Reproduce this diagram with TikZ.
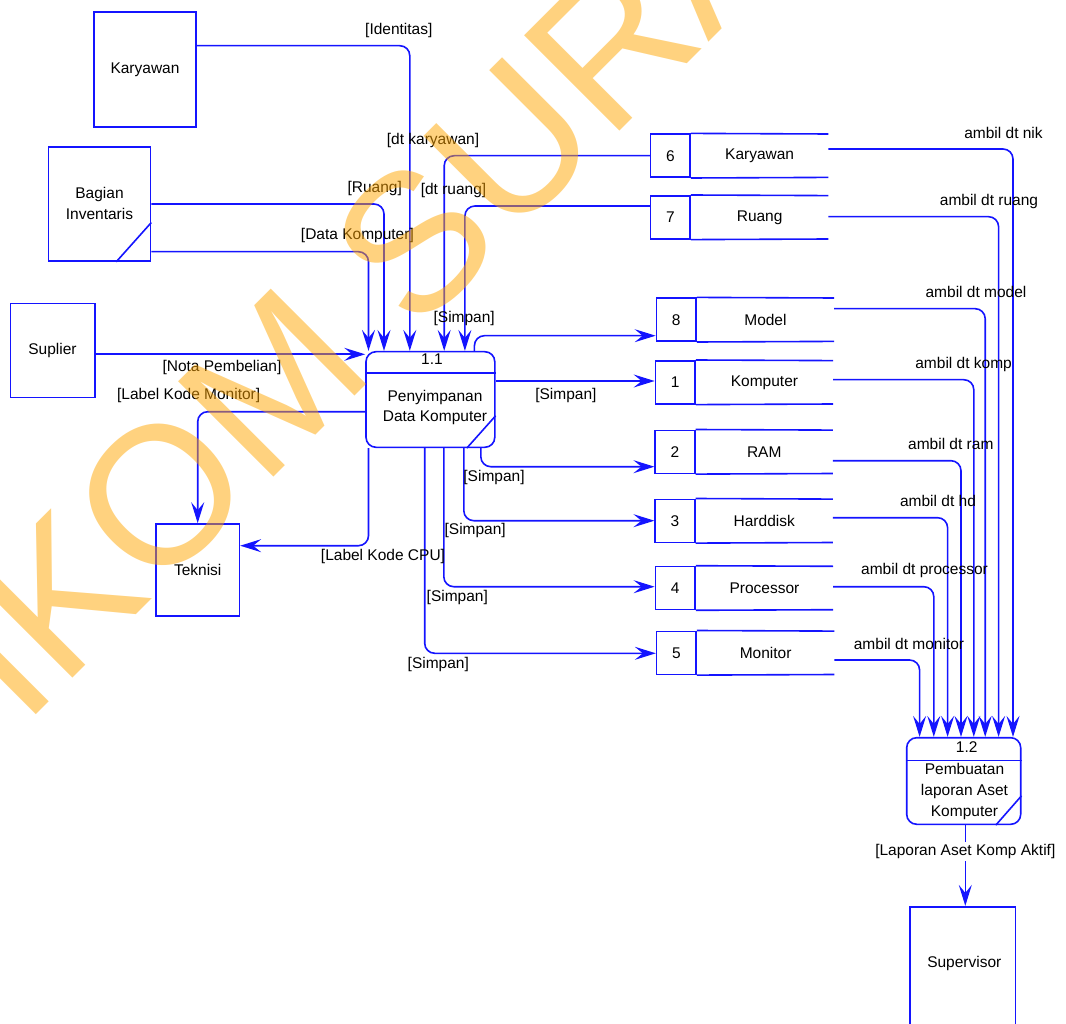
\documentclass[tikz,border=0pt]{standalone}
\usepackage{fontspec}
\setmainfont{Liberation Sans}
\usetikzlibrary{arrows.meta}
\definecolor{dfd}{RGB}{20,20,255}
\definecolor{wm}{RGB}{255,165,0}
\begin{document}
\begin{tikzpicture}[x=1pt,y=-1pt,
  every node/.style={font=\fontsize{15.5}{20}\selectfont, text=black},
  ent/.style={draw=dfd, line width=1.6pt, inner sep=0pt, align=center},
  proc/.style={draw=dfd, line width=1.6pt, rounded corners=10pt, inner sep=0pt},
  sid/.style={draw=dfd, line width=1.6pt, inner sep=0pt, minimum width=39.5pt, minimum height=43pt},
  snm/.style={inner sep=0pt, minimum width=137pt, minimum height=43pt},
  edge/.style={draw=dfd, line width=1.6pt},
  flow/.style={draw=dfd, line width=1.6pt, rounded corners=10pt, -{Stealth[length=21pt,width=13pt,inset=8pt]}},
  lbl/.style={inner sep=0pt},
  ]
\useasboundingbox (0,0) rectangle (1066,1024);

% external entities
\node[ent, minimum width=102pt, minimum height=115pt] (kar) at (145,69.5) {Karyawan};
\node[ent, minimum width=102pt, minimum height=114.3pt, font=\fontsize{15.5}{21}\selectfont] (inv) at (99.5,203.9) {Bagian\\Inventaris};
\draw[edge] ([yshift=39.3pt]inv.south east) -- ([xshift=-35.1pt]inv.south east);
\node[ent, minimum width=84.4pt, minimum height=93.6pt] (sup) at (52.5,350.5) {Suplier};
\node[ent, minimum width=83.3pt, minimum height=92pt] (tek) at (197.7,570) {Teknisi};
\node[ent, minimum width=105.6pt, minimum height=140pt] (spv) at (962.5,976.7) {};
\node (spvt) at (964.3,963) {Supervisor};

% process 1.1
\node[proc, minimum width=128.8pt, minimum height=95.6pt] (p11) at (430.4,399.5) {};
\draw[edge] (p11.west |- 0,373.3) -- (p11.east |- 0,373.3);
\draw[edge] ([yshift=32.3pt]p11.south east) -- ([xshift=-28.8pt]p11.south east);
\node (p11id) at (432,359.5) {1.1};
\node[align=center] (p11t) at (435,407) {Penyimpanan\\Data Komputer};

% process 1.2
\node[proc, minimum width=114pt, minimum height=86.6pt] (p12) at (963.7,781) {};
\draw[edge] (p12.west |- 0,760.3) -- (p12.east |- 0,760.3);
\draw[edge] ([yshift=29.3pt]p12.south east) -- ([xshift=-25.7pt]p12.south east);
\node (p12id) at (966.7,747.5) {1.2};
\node[align=center, font=\fontsize{15.5}{21}\selectfont] (p12t) at (964.5,791) {Pembuatan\\laporan Aset\\Komputer};

% data stores
\node[sid] (s6) at (670.4,155.7) {6};
\node[snm, anchor=west] (s6n) at (s6.east) {Karyawan};
\node[sid] (s7) at (670.4,217.3) {7};
\node[snm, anchor=west] (s7n) at (s7.east) {Ruang};
\node[sid] (s8) at (676.2,319.7) {8};
\node[snm, anchor=west] (s8n) at (s8.east) {Model};
\node[sid] (s1) at (675.2,382.3) {1};
\node[snm, anchor=west] (s1n) at (s1.east) {Komputer};
\node[sid] (s2) at (675.0,451.8) {2};
\node[snm, anchor=west] (s2n) at (s2.east) {RAM};
\node[sid] (s3) at (675.0,520.8) {3};
\node[snm, anchor=west] (s3n) at (s3.east) {Harddisk};
\node[sid] (s4) at (675.2,588.0) {4};
\node[snm, anchor=west] (s4n) at (s4.east) {Processor};
\node[sid] (s5) at (676.4,652.8) {5};
\node[snm, anchor=west] (s5n) at (s5.east) {Monitor};
\foreach \s in {s6,s7,s8,s1,s2,s3,s4,s5}{
  \draw[edge] (\s.north east) -- (\s n.north east);
  \draw[edge] (\s.south east) -- (\s n.south east);
}

% flows into 1.1
\draw[flow] (kar.east |- 0,45.7) -| (p11.north -| 409.8,0);
\draw[flow] (inv.east |- 0,204) -| (p11.north -| 384,0);
\draw[flow] (inv.east |- 0,251.7) -| (p11.north -| 368.5,0);
\draw[flow] (s6.west) -| (p11.north -| 444.2,0);
\draw[flow] (s7.west |- 0,206) -| (p11.north -| 464.9,0);
\draw[flow] (sup.east |- 0,354.3) -- (p11.west |- 0,354.3);

% flows out of 1.1
\draw[flow] (p11.west |- 0,411.7) -| (tek.north);
\draw[flow] (p11.south -| 368.5,0) |- (tek.east |- 0,545.7);
\draw[flow] (p11.north -| 474.4,0) |- (s8.west |- 0,335.7);
\draw[flow] (p11.east |- 0,381) -- (s1.west |- 0,381);
\draw[flow] (p11.south -| 480.8,0) |- (s2.west |- 0,466.7);
\draw[flow] (p11.south -| 463.8,0) |- (s3.west |- 0,520.7);
\draw[flow] (p11.south -| 443.8,0) |- (s4.west |- 0,586.7);
\draw[flow] (p11.south -| 424.7,0) |- (s5.west |- 0,653.3);

% flows into 1.2
\draw[flow] (s6n.east |- 0,149) -| (p12.north -| 1013,0);
\draw[flow] (s7n.east |- 0,216.7) -| (p12.north -| 998.6,0);
\draw[flow] (s8n.east |- 0,308.7) -| (p12.north -| 985.2,0);
\draw[flow] (s1n.east |- 0,379.7) -| (p12.north -| 973.8,0);
\draw[flow] (s2n.east |- 0,460.7) -| (p12.north -| 961.0,0);
\draw[flow] (s3n.east |- 0,517.7) -| (p12.north -| 947.6,0);
\draw[flow] (s4n.east |- 0,586.7) -| (p12.north -| 933.8,0);
\draw[flow] (s5n.east |- 0,660) -| (p12.north -| 919.6,0);

% flow out of 1.2
\draw[flow] (p12.south -| 965.3,0) -- (spv.north -| 965.3,0);

% labels
\node[lbl] (l1) at (398.8,30) {[Identitas]};
\node[lbl] (l2) at (374.7,188.3) {[Ruang]};
\node[lbl] (l3) at (357.4,235) {[Data Komputer]};
\node[lbl] (l4) at (433,140) {[dt karyawan]};
\node[lbl] (l5) at (453.5,190) {[dt ruang]};
\node[lbl] (l6) at (464.2,318.3) {[Simpan]};
\node[lbl] (l7) at (222,367.7) {[Nota Pembelian]};
\node[lbl] (l8) at (188.7,395) {[Label Kode Monitor]};
\node[lbl] (l9) at (383,556.7) {[Label Kode CPU]};
\node[lbl] (l10) at (565.9,395) {[Simpan]};
\node[lbl] (l11) at (494,477.7) {[Simpan]};
\node[lbl] (l12) at (475.2,530.7) {[Simpan]};
\node[lbl] (l13) at (457.3,597.3) {[Simpan]};
\node[lbl] (l14) at (438.3,664) {[Simpan]};
\node[lbl] (a1) at (1003.5,133.3) {ambil dt nik};
\node[lbl] (a2) at (989,201) {ambil dt ruang};
\node[lbl] (a3) at (976,292) {ambil dt model};
\node[lbl] (a4) at (963.6,364) {ambil dt komp};
\node[lbl] (a5) at (950.8,444) {ambil dt ram};
\node[lbl] (a6) at (938,500.7) {ambil dt hd};
\node[lbl] (a7) at (924.5,570.7) {ambil dt processor};
\node[lbl] (a8) at (909,644) {ambil dt monitor};
\node[lbl, fill=white, inner ysep=2pt] (l15) at (965.3,851.7) {[Laporan Aset Komp Aktif]};

% watermark
\begin{scope}
\clip (0,0) rectangle (1066,1024);
\node[rotate=45, anchor=base west, inner sep=0pt, text=wm, text opacity=0.5,
  font=\fontsize{196}{196}\selectfont] (wmk) at (-154,905) {STIKOM SURABAYA};
\end{scope}
\end{tikzpicture}
\end{document}
